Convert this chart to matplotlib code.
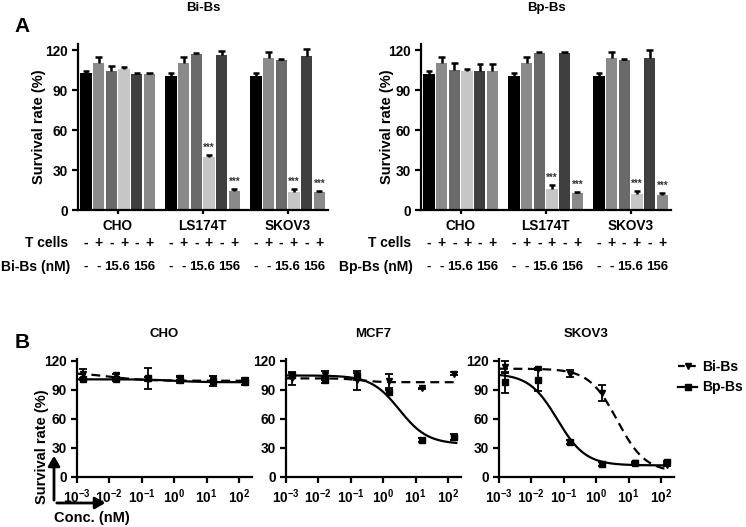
#!/usr/bin/env python3
"""Bi-Bs / Bp-Bs cytotoxicity figure (panels A and B)."""

import matplotlib

matplotlib.use("Agg")
import matplotlib.pyplot as plt
import numpy as np
from matplotlib.lines import Line2D
from matplotlib.transforms import blended_transform_factory

W, H = 746, 527

plt.rcParams["font.family"] = ["Liberation Sans", "DejaVu Sans"]
plt.rcParams["font.weight"] = "bold"
plt.rcParams["mathtext.fontset"] = "custom"
plt.rcParams["mathtext.bf"] = "Liberation Sans:bold"
plt.rcParams["mathtext.rm"] = "Liberation Sans:bold"

# ---- panel A data ----
GROUPS = ["CHO", "LS174T", "SKOV3"]
T_CELLS = ["-", "+", "-", "+", "-", "+"]
DOSE_LABELS = ["-", "-", "15.6", "156"]
BAR_COLORS = ["#000000", "#8a8a8a", "#6a6a6a", "#c6c6c6", "#3f3f3f", "#8a8a8a"]

BI_MEAN = [[102.5, 110.5, 104.5, 105.5, 102, 102],
           [100.5, 110, 117, 40, 116.5, 14],
           [100.5, 114, 112.5, 13.5, 115.5, 13.5]]
BI_SEM = [[2, 4.5, 3.5, 1.5, 0.5, 0.7],
          [2.5, 5, 1, 1, 2.5, 2],
          [2, 4.5, 0.5, 2, 5.5, 1]]
BP_MEAN = [[102, 110, 105, 104.5, 104, 104],
           [100.5, 110, 118, 16, 118, 12.5],
           [100.5, 114, 112.5, 12, 114, 11.5]]
BP_SEM = [[2.5, 5, 5, 1.5, 5.5, 5.5],
          [2.5, 5, 0.5, 2.5, 0.5, 1],
          [2, 4.5, 1, 2, 6, 1.5]]
STARS = [(1, 3), (1, 5), (2, 3), (2, 5)]

# ---- panel B data ----
CONC = [0.00156, 0.0156, 0.156, 1.56, 15.6, 156]
CELL_LINES = ["CHO", "MCF7", "SKOV3"]
B_BI_MEAN = [[107, 105, 101, 102, 101, 100],
             [102, 105, 100, 99, 92, 107],
             [114, 112, 107, 87, 14, 12]]
B_BI_SEM = [[5, 1.5, 2, 2, 3, 2],
            [7, 5, 10, 7, 0.5, 2],
            [6, 1, 4, 8, 1, 1]]
B_BP_MEAN = [[101, 101, 102, 100, 99, 98],
             [105, 100, 104, 88, 38, 41],
             [98, 100, 36, 13, 14, 16]]
B_BP_SEM = [[1, 1.5, 11, 3, 5, 3],
            [3, 3, 4, 2, 2, 3],
            [11, 11, 2, 2, 2, 1]]
# four-parameter logistic fits: top, bottom, logEC50, hill
FIT_BI = [(108, 99.5, -2.0, 0.8), (102, 98, -0.7, 1.5), (112, 5, 0.65, 1.0)]
FIT_BP = [(101, 98, 0.0, 1.0), (105, 34, 0.5, 1.0), (107, 12, -1.2, 1.0)]
DECADE_LABELS = [r"$\mathbf{10^{-3}}$", r"$\mathbf{10^{-2}}$", r"$\mathbf{10^{-1}}$",
                 r"$\mathbf{10^{0}}$", r"$\mathbf{10^{1}}$", r"$\mathbf{10^{2}}$"]

GROUP_STEP = 6.7
LW = 1.6
FS = 10


def rect(x0, y0, x1, y1):
    return [x0 / W, 1 - y1 / H, (x1 - x0) / W, (y1 - y0) / H]


def style_axes(ax):
    for side in ("top", "right"):
        ax.spines[side].set_visible(False)
    for side in ("left", "bottom"):
        ax.spines[side].set_linewidth(LW)
    ax.tick_params(width=LW, length=4, labelsize=9.8)
    for lab in ax.get_yticklabels():
        lab.set_fontweight("bold")


def bar_panel(fig, x0, mean, sem, title, dose_name, label_x):
    ax = fig.add_axes(rect(x0, 44, x0 + 250, 210))
    for g in range(len(GROUPS)):
        xs = GROUP_STEP * g + np.arange(6)
        ax.bar(xs, mean[g], width=0.9, color=BAR_COLORS, zorder=2)
        tops = np.array(mean[g]) + np.array(sem[g])
        ax.vlines(xs, mean[g], tops, color="black", linewidth=1.8, zorder=3)
        ax.hlines(tops, xs - 0.25, xs + 0.25, color="black", linewidth=1.8, zorder=3)
    for g, j in STARS:
        top = mean[g][j] + sem[g][j]
        ax.text(GROUP_STEP * g + j, top + 1.5, "***", ha="center", va="bottom", fontsize=7,
                color="#333333")
    ax.set_xlim(-0.63, GROUP_STEP * 2 + 5.69)
    ax.set_ylim(0, 124.5)
    ax.set_yticks([0, 30, 60, 90, 120])
    ax.set_xticks([GROUP_STEP * g + 2.5 for g in range(3)])
    ax.set_xticklabels(GROUPS, fontsize=FS, fontweight="bold")
    ax.set_ylabel("Survival rate (%)", fontsize=10.5, fontweight="bold")
    ax.yaxis.set_label_coords((label_x - x0) / 250, 0.5)
    style_axes(ax)
    ax.tick_params(axis="x", length=3)
    fig.text((x0 + 125) / W, 1 - 8 / H, title, ha="center", va="center", fontsize=9.5)

    tr = blended_transform_factory(ax.transData, fig.transFigure)
    y_t, y_d = 1 - 243 / H, 1 - 267 / H
    fig.text((x0 - 10) / W, y_t, "T cells", ha="right", va="center", fontsize=FS)
    fig.text((x0 - 8) / W, y_d, dose_name, ha="right", va="center", fontsize=FS)
    for g in range(3):
        base = GROUP_STEP * g
        for j, s in enumerate(T_CELLS):
            ax.text(base + j, y_t, s, transform=tr, ha="center", va="center", fontsize=FS)
        for slot, s in zip([0, 1, 2.45, 4.6], DOSE_LABELS):
            ax.text(base + slot, y_d, s, transform=tr, ha="center", va="center", fontsize=9.5)
    return ax


def logistic(x, top, bottom, logec50, hill):
    return bottom + (top - bottom) / (1 + 10 ** ((np.log10(x) - logec50) * hill))


def curve_panel(fig, x0, i):
    ax = fig.add_axes(rect(x0, 359, x0 + 175, 477))
    xx = np.logspace(-3, np.log10(180), 200)
    ax.plot(xx, logistic(xx, *FIT_BI[i]), color="black", linewidth=LW, linestyle=(0, (4, 2.5)))
    ax.plot(xx, logistic(xx, *FIT_BP[i]), color="black", linewidth=LW)
    ax.errorbar(CONC, B_BI_MEAN[i], yerr=B_BI_SEM[i], fmt="v", color="black", markersize=4.5,
                elinewidth=1.3, capsize=3, capthick=1.3)
    ax.errorbar(CONC, B_BP_MEAN[i], yerr=B_BP_SEM[i], fmt="s", color="black", markersize=5,
                elinewidth=1.3, capsize=3, capthick=1.3)
    ax.set_xscale("log")
    ax.set_xlim(1e-3, 10 ** 2.4)
    ax.set_ylim(0, 122)
    ax.set_yticks([0, 30, 60, 90, 120])
    ax.set_xticks([1e-3, 1e-2, 1e-1, 1, 10, 100])
    ax.set_xticklabels(DECADE_LABELS)
    ax.xaxis.set_minor_locator(matplotlib.ticker.NullLocator())
    style_axes(ax)
    ax.set_title(CELL_LINES[i], fontsize=9.5, fontweight="bold", pad=16)
    return ax


def main():
    fig = plt.figure(figsize=(W / 100, H / 100), dpi=100)
    fig.text(22 / W, 1 - 27 / H, "A", ha="center", va="center", fontsize=15)
    fig.text(22 / W, 1 - 343 / H, "B", ha="center", va="center", fontsize=15)

    bar_panel(fig, 78, BI_MEAN, BI_SEM, "Bi-Bs", "Bi-Bs (nM)", 46)
    bar_panel(fig, 421, BP_MEAN, BP_SEM, "Bp-Bs", "Bp-Bs (nM)", 394)

    for i, x0 in enumerate([77, 286, 499]):
        curve_panel(fig, x0, i)

    # axis hint arrows for panel B
    start = (54 / W, 1 - 503 / H)
    fig.add_artist(matplotlib.patches.FancyArrowPatch(
        start, (54 / W, 1 - 453 / H), transform=fig.transFigure,
        arrowstyle="-|>,head_length=6,head_width=3.5", linewidth=2, color="black"))
    fig.add_artist(matplotlib.patches.FancyArrowPatch(
        start, (108 / W, 1 - 503 / H), transform=fig.transFigure,
        arrowstyle="-|>,head_length=6,head_width=3.5", linewidth=2, color="black"))
    fig.text(42 / W, 1 - 447 / H, "Survival rate (%)", rotation=90, ha="center", va="center",
             fontsize=10.5)
    fig.text(54 / W, 1 - 518 / H, "Conc. (nM)", ha="left", va="center", fontsize=10.5)

    handles = [
        Line2D([], [], color="black", linewidth=LW, linestyle=(0, (3, 2)), marker="v", markersize=4.5),
        Line2D([], [], color="black", linewidth=LW, marker="s", markersize=5),
    ]
    fig.legend(handles, ["Bi-Bs", "Bp-Bs"], loc="center left", bbox_to_anchor=(678 / W, 1 - 377 / H),
               frameon=False, fontsize=FS, handlelength=1.4, handletextpad=0.35, labelspacing=0.5,
               borderaxespad=0, borderpad=0)

    fig.savefig("out.png", dpi=100)


if __name__ == "__main__":
    main()
